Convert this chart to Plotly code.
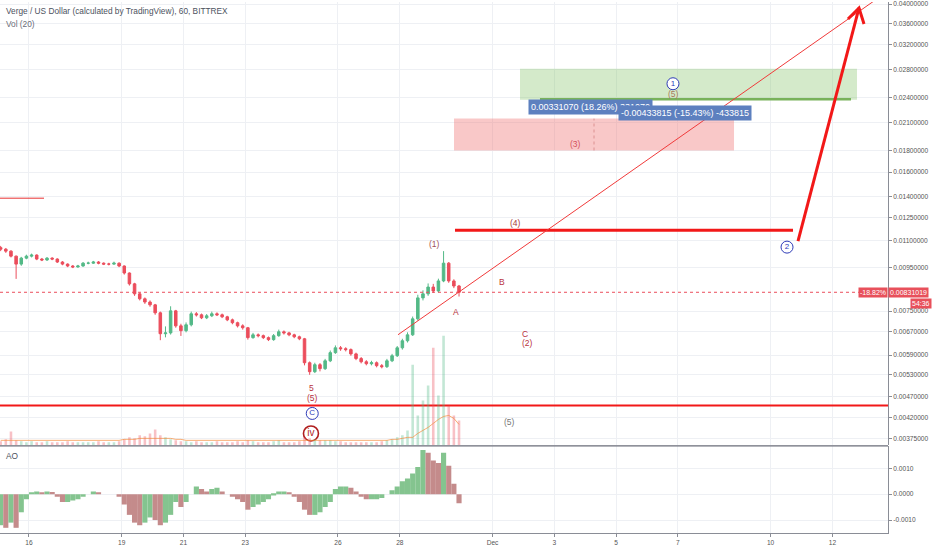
import math
import pandas as pd
import plotly.graph_objects as go

FONT = "Liberation Sans"

# ---------------- data ----------------
times = pd.date_range("2018-11-15 02:00", periods=90, freq="4h")

opens = [0.01060, 0.01051, 0.01040, 0.01012, 0.00969, 0.01001, 0.01012, 0.01018, 0.00996, 0.00991,
         0.01001, 0.00996, 0.00980, 0.00969, 0.00959, 0.00954, 0.00959, 0.00974, 0.00974, 0.00980,
         0.00974, 0.00969, 0.00969, 0.00974, 0.00959, 0.00923, 0.00870, 0.00824, 0.00802, 0.00788,
         0.00776, 0.00743, 0.00663, 0.00666, 0.00751, 0.00692, 0.00674, 0.00696, 0.00739, 0.00735,
         0.00723, 0.00731, 0.00739, 0.00735, 0.00727, 0.00715, 0.00704, 0.00692, 0.00685, 0.00649,
         0.00659, 0.00656, 0.00649, 0.00642, 0.00656, 0.00670, 0.00666, 0.00659, 0.00652, 0.00645,
         0.00566, 0.00539, 0.00560, 0.00548, 0.00572, 0.00598, 0.00614, 0.00611, 0.00608, 0.00594,
         0.00579, 0.00569, 0.00563, 0.00566, 0.00557, 0.00554, 0.00572, 0.00588, 0.00614, 0.00638,
         0.00659, 0.00719, 0.00806, 0.00824, 0.00855, 0.00837, 0.00884, 0.00974, 0.00884, 0.00860]
closes = [0.01051, 0.01040, 0.01012, 0.00969, 0.01001, 0.01012, 0.01018, 0.00996, 0.00991, 0.01001,
          0.00996, 0.00980, 0.00969, 0.00959, 0.00954, 0.00959, 0.00974, 0.00974, 0.00980, 0.00974,
          0.00969, 0.00969, 0.00974, 0.00959, 0.00923, 0.00870, 0.00824, 0.00802, 0.00788, 0.00776,
          0.00743, 0.00663, 0.00666, 0.00751, 0.00692, 0.00674, 0.00696, 0.00739, 0.00735, 0.00723,
          0.00731, 0.00739, 0.00735, 0.00727, 0.00715, 0.00704, 0.00692, 0.00685, 0.00649, 0.00659,
          0.00656, 0.00649, 0.00642, 0.00656, 0.00670, 0.00666, 0.00659, 0.00652, 0.00645, 0.00566,
          0.00539, 0.00560, 0.00548, 0.00572, 0.00598, 0.00614, 0.00611, 0.00608, 0.00594, 0.00579,
          0.00569, 0.00563, 0.00566, 0.00557, 0.00554, 0.00572, 0.00588, 0.00614, 0.00638, 0.00659,
          0.00719, 0.00806, 0.00824, 0.00855, 0.00837, 0.00884, 0.00974, 0.00884, 0.00860, 0.00831]
highs = [0.01070, 0.01058, 0.01045, 0.01015, 0.01008, 0.01020, 0.01026, 0.01022, 0.01002, 0.01007,
         0.01006, 0.01000, 0.00985, 0.00973, 0.00964, 0.00965, 0.00980, 0.00982, 0.00986, 0.00985,
         0.00978, 0.00976, 0.00982, 0.00978, 0.00962, 0.00926, 0.00875, 0.00830, 0.00808, 0.00795,
         0.00780, 0.00748, 0.00690, 0.00770, 0.00755, 0.00700, 0.00705, 0.00748, 0.00746, 0.00740,
         0.00738, 0.00748, 0.00745, 0.00740, 0.00731, 0.00720, 0.00708, 0.00698, 0.00688, 0.00666,
         0.00664, 0.00660, 0.00653, 0.00662, 0.00678, 0.00675, 0.00670, 0.00663, 0.00656, 0.00648,
         0.00570, 0.00566, 0.00565, 0.00578, 0.00605, 0.00622, 0.00620, 0.00616, 0.00612, 0.00598,
         0.00584, 0.00574, 0.00572, 0.00570, 0.00562, 0.00578, 0.00594, 0.00620, 0.00645, 0.00668,
         0.00728, 0.00820, 0.00840, 0.00872, 0.00870, 0.00895, 0.01040, 0.00980, 0.00892, 0.00865]
lows = [0.01040, 0.01030, 0.01005, 0.00894, 0.00960, 0.00995, 0.01005, 0.00990, 0.00985, 0.00986,
        0.00990, 0.00975, 0.00963, 0.00953, 0.00948, 0.00950, 0.00955, 0.00968, 0.00970, 0.00968,
        0.00964, 0.00962, 0.00965, 0.00953, 0.00915, 0.00862, 0.00815, 0.00795, 0.00780, 0.00768,
        0.00735, 0.00640, 0.00650, 0.00660, 0.00685, 0.00655, 0.00668, 0.00690, 0.00728, 0.00718,
        0.00718, 0.00726, 0.00730, 0.00722, 0.00710, 0.00698, 0.00686, 0.00678, 0.00642, 0.00645,
        0.00650, 0.00644, 0.00637, 0.00638, 0.00652, 0.00660, 0.00654, 0.00647, 0.00640, 0.00558,
        0.00530, 0.00535, 0.00540, 0.00544, 0.00568, 0.00594, 0.00604, 0.00602, 0.00588, 0.00574,
        0.00564, 0.00558, 0.00558, 0.00552, 0.00549, 0.00550, 0.00568, 0.00584, 0.00608, 0.00632,
        0.00655, 0.00712, 0.00795, 0.00815, 0.00828, 0.00830, 0.00878, 0.00875, 0.00850, 0.00812]

volumes = [4, 6, 14, 5, 4, 3, 4, 3, 3, 4, 3, 3, 3, 4, 3, 3, 3, 3, 3, 4, 3, 3, 3, 4,
           6, 8, 7, 10, 9, 12, 16, 10, 8, 6, 5, 4, 4, 3, 4, 3, 3, 3, 4, 3, 3, 3, 4, 3,
           5, 4, 3, 3, 3, 4, 5, 3, 3, 3, 4, 8, 7, 6, 5, 5, 5, 4, 4, 3, 3, 3, 3, 3, 3, 3,
           4, 5, 6, 8, 10, 15, 81, 30, 45, 60, 98, 50, 110, 40, 30, 25]
vol_ma = [5, 5, 5, 5, 5, 5, 5, 5, 5, 5, 5, 5, 5, 5, 5, 5, 5, 5, 5, 5, 5, 5, 5, 5,
          6, 6, 6, 7, 7, 7, 7, 7, 7, 7, 6, 6, 5, 5, 5, 5, 5, 5, 5, 5, 5, 5, 5, 5,
          5, 5, 5, 5, 5, 5, 5, 5, 5, 5, 5, 5, 5, 5, 5, 5, 5, 5, 5, 5, 5, 5, 5, 5, 5, 5,
          5, 5, 6, 6, 7, 8, 8, 12, 15, 18, 22, 26, 29, 30, 27, 21]

ao = [-0.0012, -0.0013, -0.0011, -0.0013, -0.0007, -0.0002, 0.00005, 0.0001, 0.00005, 0.0001,
      0.00008, -0.0001, -0.0003, -0.0003, -0.00025, -0.0002, -0.0001, 0.0, 0.0001, 0.00005,
      0.0, 0.0, 0.0, -0.0001, -0.0004, -0.0008, -0.0011, -0.0012, -0.0011, -0.0009,
      -0.0010, -0.0012, -0.0011, -0.0008, -0.0003, -0.0005, -0.0003, 0.0, 0.0003, 0.0002,
      0.0001, 0.0002, 0.00025, 0.0001, 0.0, -0.0001, -0.0002, -0.0003, -0.0006, -0.0005,
      -0.0004, -0.0003, -0.0002, -0.00005, 0.0001, 0.0001, 0.00005, -0.0001, -0.0003, -0.0006,
      -0.0008, -0.0008, -0.0007, -0.0005, -0.0003, 0.0002, 0.0003, 0.0003, 0.00025, 0.0001,
      -0.0001, -0.0002, -0.0002, -0.0002, -0.00015, 0.0, 0.00015, 0.0003, 0.0005, 0.0006,
      0.0008, 0.00105, 0.0017, 0.0016, 0.0013, 0.0012, 0.0016, 0.0011, 0.0004, -0.00035]

price_ticks = [0.04, 0.036, 0.032, 0.028, 0.024, 0.021, 0.018, 0.016, 0.014, 0.0125, 0.011,
               0.0095, 0.0075, 0.0067, 0.0059, 0.0053, 0.0047, 0.0042, 0.00375]
price_tick_text = ["0.04000000", "0.03600000", "0.03200000", "0.02800000", "0.02400000",
                   "0.02100000", "0.01800000", "0.01600000", "0.01400000", "0.01250000",
                   "0.01100000", "0.00950000", "0.00750000", "0.00670000", "0.00590000",
                   "0.00530000", "0.00470000", "0.00420000", "0.00375000"]
ao_ticks = [0.001, 0.0, -0.001]
ao_tick_text = ["0.0010", "0.0000", "-0.0010"]
date_ticks = ["2018-11-16", "2018-11-19", "2018-11-21", "2018-11-23", "2018-11-26", "2018-11-28",
              "2018-12-01", "2018-12-03", "2018-12-05", "2018-12-07", "2018-12-10", "2018-12-12"]
date_tick_text = ["16", "19", "21", "23", "26", "28", "Dec", "3", "5", "7", "10", "12"]

last_price = 0.00831019
support_level = 0.004484
resist_level = 0.01388
wave4_level = 0.01166
trend_x = ["2018-11-27 22:36", "2018-12-13 19:10"]
trend_y = [0.006593, 0.0429]
wave4_x = ["2018-11-29 18:52", "2018-12-10 17:24"]
arrow_x = ["2018-12-10 21:17", "2018-12-12 20:40"]
arrow_y = [0.01098, 0.03914]
arrowhead_x = ["2018-12-12 12:07", "2018-12-12 20:40", "2018-12-13 00:33"]
arrowhead_y = [0.03686, 0.03914, 0.03588]
green_box_x = ["2018-12-01 21:22", "2018-12-12 19:06"]
green_box_y = [0.02375, 0.02811]
green_line_x = ["2018-12-02 12:53", "2018-12-12 14:27"]
green_line_y = 0.0238
red_box_x = ["2018-11-29 18:06", "2018-12-08 19:35"]
red_box_y = [0.0180, 0.02142]
red_box_mid_x = "2018-12-04 06:50"

wave_labels = [
    ("(5)", "2018-12-06 20:58", 0.02453, "#a87a5a"),
    ("(3)", "2018-12-03 16:05", 0.01860, "#d4515e"),
    ("(4)", "2018-12-01 18:14", 0.01211, "#a83a3a"),
    ("(1)", "2018-11-29 02:34", 0.01081, "#a0505a"),
    ("B", "2018-12-01 07:22", 0.00879, "#b8323e"),
    ("A", "2018-11-29 19:39", 0.00747, "#b8323e"),
    ("C", "2018-12-02 01:15", 0.00663, "#b8323e"),
    ("(2)", "2018-12-02 03:34", 0.00631, "#b8323e"),
    ("5", "2018-11-25 03:02", 0.00492, "#b8323e"),
    ("(5)", "2018-11-25 04:00", 0.00468, "#b8323e"),
    ("(5)", "2018-12-01 12:49", 0.004088, "#777777"),
]
circle_labels = [
    ("1", "2018-12-06 20:11", 0.02590, "#2e3bb8"),
    ("2", "2018-12-10 12:45", 0.01063, "#2e3bb8"),
    ("C", "2018-11-25 04:00", 0.004293, "#2e3bb8"),
    ("iv", "2018-11-25 03:00", 0.003850, "#b01e1e"),
]
measure_labels = [
    ("0.00331070 (18.26%) 331070", "2018-12-02 03:34", 0.02286),
    ("-0.00433815 (-15.43%) -433815", "2018-12-05 01:28", 0.02213),
]

UP, DOWN = "#53b987", "#eb4d5c"
RED = "#f21818"
X0, X1 = "2018-11-15 01:29", "2018-12-13 19:11"

# ---------------- figure ----------------
fig = go.Figure()

# volume
vol_colors = ["rgba(83,185,135,0.35)" if c >= o else "rgba(235,77,92,0.35)" for o, c in zip(opens, closes)]
fig.add_trace(go.Bar(x=times, y=volumes, yaxis="y3", xaxis="x", marker=dict(color=vol_colors, line_width=0),
                     width=2 * 3600 * 1000, hoverinfo="skip"))
fig.add_trace(go.Scatter(x=times, y=vol_ma, yaxis="y3", xaxis="x", mode="lines",
                         line=dict(color="rgba(245,140,60,0.7)", width=1), hoverinfo="skip"))

# boxes
fig.add_trace(go.Scatter(x=[green_box_x[0], green_box_x[1], green_box_x[1], green_box_x[0], green_box_x[0]],
                         y=[green_box_y[0], green_box_y[0], green_box_y[1], green_box_y[1], green_box_y[0]],
                         fill="toself", fillcolor="rgba(120,190,90,0.32)", mode="lines",
                         line=dict(width=0, color="rgba(0,0,0,0)"), yaxis="y", xaxis="x", hoverinfo="skip"))
fig.add_trace(go.Scatter(x=green_line_x, y=[green_line_y, green_line_y], mode="lines",
                         line=dict(color="#78b25a", width=2.5), yaxis="y", xaxis="x", hoverinfo="skip"))
fig.add_trace(go.Scatter(x=[red_box_x[0], red_box_x[1], red_box_x[1], red_box_x[0], red_box_x[0]],
                         y=[red_box_y[0], red_box_y[0], red_box_y[1], red_box_y[1], red_box_y[0]],
                         fill="toself", fillcolor="rgba(238,110,110,0.38)", mode="lines",
                         line=dict(width=0, color="rgba(0,0,0,0)"), yaxis="y", xaxis="x", hoverinfo="skip"))
fig.add_trace(go.Scatter(x=[red_box_mid_x, red_box_mid_x], y=red_box_y, mode="lines",
                         line=dict(color="rgba(200,110,110,0.6)", width=1, dash="dot"),
                         yaxis="y", xaxis="x", hoverinfo="skip"))

# horizontal lines
fig.add_trace(go.Scatter(x=[X0, X1], y=[last_price, last_price], mode="lines",
                         line=dict(color="#eb4d5c", width=1, dash="dot"), yaxis="y", xaxis="x", hoverinfo="skip"))
fig.add_trace(go.Scatter(x=["2018-11-14 12:00", "2018-11-16 11:40"], y=[resist_level, resist_level], mode="lines",
                         line=dict(color="#e83030", width=1), yaxis="y", xaxis="x", hoverinfo="skip"))
fig.add_trace(go.Scatter(x=["2018-11-14 12:00", "2018-12-14 12:00"], y=[support_level, support_level], mode="lines",
                         line=dict(color=RED, width=2), yaxis="y", xaxis="x", hoverinfo="skip"))
fig.add_trace(go.Scatter(x=wave4_x, y=[wave4_level, wave4_level], mode="lines",
                         line=dict(color=RED, width=3), yaxis="y", xaxis="x", hoverinfo="skip"))
fig.add_trace(go.Scatter(x=trend_x, y=trend_y, mode="lines",
                         line=dict(color="#f03a3a", width=1), yaxis="y", xaxis="x", hoverinfo="skip"))
fig.add_trace(go.Scatter(x=arrow_x, y=arrow_y, mode="lines",
                         line=dict(color=RED, width=3), yaxis="y", xaxis="x", hoverinfo="skip"))
fig.add_trace(go.Scatter(x=arrowhead_x, y=arrowhead_y, mode="lines",
                         line=dict(color=RED, width=3), yaxis="y", xaxis="x", hoverinfo="skip"))

# candles
fig.add_trace(go.Candlestick(x=times, open=opens, high=highs, low=lows, close=closes,
                             increasing=dict(line=dict(color=UP, width=1), fillcolor=UP),
                             decreasing=dict(line=dict(color=DOWN, width=1), fillcolor=DOWN),
                             whiskerwidth=0, yaxis="y", xaxis="x", hoverinfo="skip"))

# circled labels
for txt, dx, py, col in circle_labels:
    big = txt == "iv"
    fig.add_trace(go.Scatter(x=[dx], y=[py], mode="markers+text", text=[txt], textposition="middle center",
                             textfont=dict(family=FONT, size=10 if big else 8, color=col),
                             marker=dict(symbol="circle", size=15 if big else 12, color="white",
                                         line=dict(color=col, width=1.6 if big else 1)),
                             yaxis="y", xaxis="x", hoverinfo="skip", cliponaxis=False))

# AO
ao_colors = ["#84c48f" if (i == 0 or ao[i] >= ao[i - 1]) else "#c48b8b" for i in range(len(ao))]
fig.add_trace(go.Bar(x=times, y=ao, yaxis="y2", xaxis="x", marker=dict(color=ao_colors, line_width=0),
                     width=4 * 3600 * 1000, hoverinfo="skip"))

PW, PH = 888, 533  # plot area in pixels
XE = 932 / PW      # paper x of right figure edge
annotations = []
for txt, dx, py, col in wave_labels:
    annotations.append(dict(x=dx, y=math.log10(py), xref="x", yref="y", text=txt, showarrow=False,
                            font=dict(family=FONT, size=8.5, color=col)))
for txt, dx, py in measure_labels:
    annotations.append(dict(x=dx, y=math.log10(py), xref="x", yref="y", text=txt, showarrow=False,
                            xanchor="left", bgcolor="#5d80bf", borderpad=2,
                            font=dict(family=FONT, size=9, color="white")))
annotations += [
    dict(x=1.0, y=math.log10(last_price), xref="paper", yref="y", text="0.00831019", showarrow=False,
         xanchor="left", bgcolor="#e8505b", borderpad=1, font=dict(family=FONT, size=7, color="white")),
    dict(x=1.0, y=math.log10(last_price), xref="paper", yref="y", text="-18.82%", showarrow=False,
         xanchor="right", bgcolor="#e8505b", borderpad=1, font=dict(family=FONT, size=7, color="white")),
    dict(x=XE, y=math.log10(0.00782), xref="paper", yref="y", text="54:36", showarrow=False,
         xanchor="right", bgcolor="#e8505b", borderpad=1, font=dict(family=FONT, size=7, color="white")),
    dict(x=4 / PW, y=1 - 9 / PH, xref="paper", yref="paper", text="Verge / US Dollar (calculated by TradingView), 60, BITTREX",
         showarrow=False, xanchor="left", yanchor="middle", font=dict(family=FONT, size=8.3, color="#4c525e")),
    dict(x=4 / PW, y=1 - 22 / PH, xref="paper", yref="paper", text="Vol (20)",
         showarrow=False, xanchor="left", yanchor="middle", font=dict(family=FONT, size=8.3, color="#6a6d78")),
    dict(x=4 / PW, y=(PH - 456) / PH, xref="paper", yref="paper", text="AO",
         showarrow=False, xanchor="left", yanchor="middle", font=dict(family=FONT, size=8.3, color="#4c525e")),
]

PB = (PH - 445) / PH
AT = (PH - 446) / PH
GRID = "#eef0f4"
AXC = "#8a8d96"
TF = dict(family=FONT, size=6.6, color="#555")
fig.update_layout(
    width=932, height=550, margin=dict(l=0, r=932 - PW, t=0, b=550 - PH),
    paper_bgcolor="white", plot_bgcolor="white", showlegend=False, barmode="overlay",
    font=dict(family=FONT, size=7, color="#4a4a4a"),
    xaxis=dict(domain=[0, 1], anchor="y2", type="date", range=[X0, X1], tickvals=date_ticks,
               ticktext=date_tick_text, showgrid=True, gridcolor=GRID, gridwidth=1, ticks="outside",
               ticklen=3, tickcolor=AXC, showline=True, linecolor=AXC, linewidth=1,
               rangeslider=dict(visible=False), tickfont=TF, zeroline=False),
    yaxis=dict(domain=[PB, 1], anchor="x", type="log", side="right", range=[-2.4427, -1.3932],
               tickvals=price_ticks, ticktext=price_tick_text, showgrid=True, gridcolor=GRID,
               ticks="outside", ticklen=3, tickcolor=AXC, showline=True, linecolor=AXC, linewidth=1,
               tickfont=TF, zeroline=False, ticklabeloverflow="allow"),
    yaxis2=dict(domain=[0, AT], anchor="x", side="right", range=[-0.0015, 0.001846],
                tickvals=ao_ticks, ticktext=ao_tick_text, showgrid=True, gridcolor=GRID,
                ticks="outside", ticklen=3, tickcolor=AXC, showline=True, linecolor=AXC, linewidth=1,
                tickfont=TF, zeroline=False),
    yaxis3=dict(domain=[PB, 1], overlaying="y", range=[0, 445], visible=False, fixedrange=True),
    annotations=annotations,
    shapes=[dict(type="line", xref="paper", yref="paper", x0=0, x1=1, y0=(PB + AT) / 2, y1=(PB + AT) / 2,
                 line=dict(color="#6a6d78", width=1.2))],
)

fig.write_html("out.html", config={"displayModeBar": False},
               post_script="document.body.style.margin='0';document.body.style.padding='0';")
